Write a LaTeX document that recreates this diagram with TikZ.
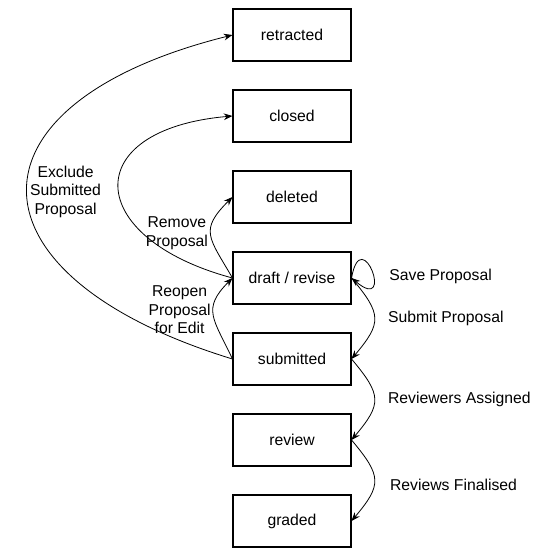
\documentclass[tikz,border=0pt]{standalone}
\usepackage{fontspec}
\setmainfont{Liberation Sans}
\usetikzlibrary{positioning,arrows.meta}
\tikzset{>={Stealth[length=6.5pt,width=5pt]}}
\tikzstyle{state} = [rectangle, draw, fill=white, line width=0.8pt,
    minimum width=88.5pt, minimum height=39pt, inner sep=0pt]
\tikzstyle{lbl} = [align=center, inner sep=2pt]

\begin{document}
\begin{tikzpicture}[x=0.75pt, y=-0.75pt, node distance=60.75pt,
    font=\fontsize{11.8pt}{14pt}\selectfont]
  \useasboundingbox (0,0) rectangle (539,548);
  \node [state] (ret) at (292,35) {retracted};
  \node [state, below of=ret] (cls) {closed};
  \node [state, below of=cls] (del) {deleted};
  \node [state, below of=del] (dft) {draft / revise};
  \node [state, below of=dft] (sub) {submitted};
  \node [state, below of=sub] (rev) {review};
  \node [state, below of=rev] (grd) {graded};

  % left side
  \path[->,line width=0.6pt] (sub.west) edge[out=163, in=194, looseness=2.25]
    node[lbl, anchor=west] {Exclude\\Submitted\\Proposal} (ret.west);
  \path[->,line width=0.6pt] (dft.west) edge[out=165, in=185, looseness=2.45] (cls.west);
  \path[->,line width=0.6pt] (dft.west) edge[out=120, in=225, looseness=1.5]
    node[lbl, anchor=east, yshift=1pt] {Remove\\Proposal} (del.west);
  \path[->,line width=0.6pt] (sub.west) edge[out=115, in=225, looseness=1.4]
    node[lbl, anchor=east, yshift=4pt] {Reopen\\Proposal\\for Edit} (dft.west);

  % right side
  \path[->,line width=0.6pt] (dft.east) edge[out=80, in=-40, min distance=43pt]
    node[lbl, anchor=west, xshift=11pt, yshift=-4pt] {Save Proposal} (dft.east);
  \path[->,line width=0.6pt] (dft.east) edge[out=-50, in=50, looseness=1.5]
    node[lbl, anchor=west, xshift=8pt] {Submit Proposal} (sub.east);
  \path[->,line width=0.6pt] (sub.east) edge[out=-50, in=50, looseness=1.5]
    node[lbl, anchor=west, xshift=8pt] {Reviewers Assigned} (rev.east);
  \path[->,line width=0.6pt] (rev.east) edge[out=-50, in=50, looseness=1.5]
    node[lbl, anchor=west, xshift=9.5pt, yshift=-3pt] {Reviews Finalised} (grd.east);
\end{tikzpicture}
\end{document}
